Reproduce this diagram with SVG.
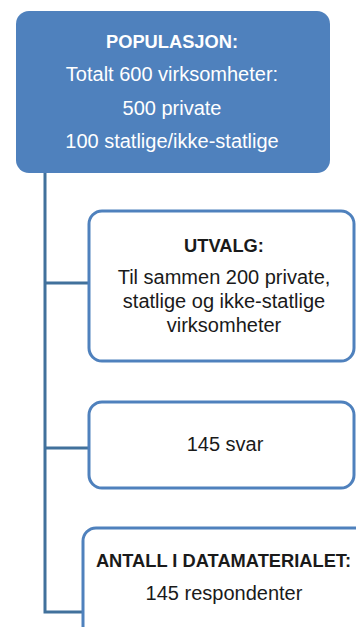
<svg xmlns="http://www.w3.org/2000/svg" width="356" height="627" viewBox="0 0 356 627">
<style>
.t{font-family:"Liberation Sans",Arial,sans-serif;font-size:20px;text-anchor:middle;fill:#1a1a1a}
.b{font-weight:bold;font-size:18.3px}
.w{fill:#ffffff}
.box{fill:#ffffff;stroke:#4F81BD;stroke-width:3}
.con{fill:none;stroke:#41719C;stroke-width:3}
</style>
<rect width="356" height="627" fill="#ffffff"/>
<g id="connectors">
<path class="con" d="M45,173 V612 H83"/>
<path class="con" d="M45,283 H89"/>
<path class="con" d="M45,448 H89"/>
</g>
<g id="populasjon">
<rect x="16" y="11" width="314" height="162" rx="13" fill="#4F81BD"/>
<text class="t b w" x="172" y="48">POPULASJON:</text>
<text class="t w" x="172" y="81">Totalt 600 virksomheter:</text>
<text class="t w" x="172" y="115">500 private</text>
<text class="t w" x="172" y="148">100 statlige/ikke-statlige</text>
</g>
<g id="utvalg">
<rect class="box" x="89" y="211" width="265" height="150" rx="13"/>
<text class="t b" x="224" y="252">UTVALG:</text>
<text class="t" x="224" y="284">Til sammen 200 private,</text>
<text class="t" x="224" y="308">statlige og ikke-statlige</text>
<text class="t" x="224" y="332">virksomheter</text>
</g>
<g id="svar">
<rect class="box" x="89" y="402" width="265" height="86" rx="13"/>
<text class="t" x="225" y="451">145 svar</text>
</g>
<g id="datamaterialet">
<rect class="box" x="83" y="528" width="290" height="130" rx="13"/>
<text class="t b" x="223.5" y="567">ANTALL I DATAMATERIALET:</text>
<text class="t" x="224" y="600">145 respondenter</text>
</g>
</svg>
